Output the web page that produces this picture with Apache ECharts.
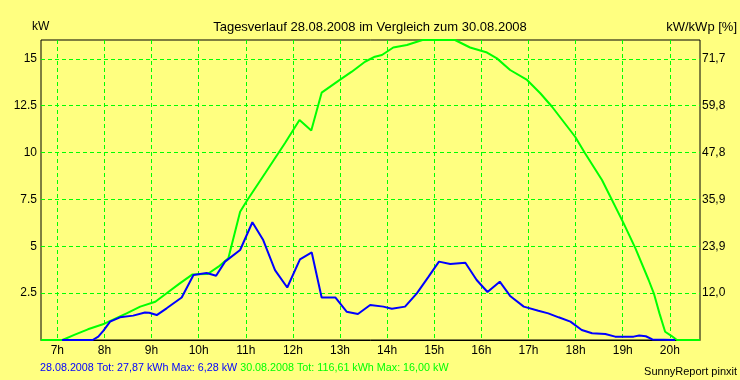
<!DOCTYPE html>
<html>
<head>
<meta charset="utf-8">
<script src="https://cdn.jsdelivr.net/npm/echarts@6/dist/echarts.min.js"></script>
<style>
html,body{margin:0;padding:0;background:#FFFF80;}
#chart{width:740px;height:380px;}
</style>
</head>
<body>
<div id="chart"></div>
<script>
// Hour ticks on the time axis
const hourTicks = [7, 8, 9, 10, 11, 12, 13, 14, 15, 16, 17, 18, 19, 20];
const leftLabels = ['2.5', '5', '7.5', '10', '12.5', '15'];
const rightLabels = ['12,0', '23,9', '35,9', '47,8', '59,8', '71,7'];

// 30.08.2008 (green) – time in hours, power in kW
const greenTimes = [6.654, 7.11, 7.36, 7.65, 8.0, 8.47, 8.76, 9.08, 9.32, 9.6, 9.87, 10.19, 10.42, 10.63, 10.88, 11.02, 11.41, 11.83, 12.14, 12.39, 12.61, 13.01, 13.25, 13.53, 13.74, 13.89, 14.13, 14.42, 14.75, 15.44, 15.76, 16.12, 16.33, 16.61, 16.97, 17.25, 17.5, 17.99, 18.2, 18.56, 19.02, 19.27, 19.55, 19.66, 19.78, 19.9, 20.04, 20.15, 20.64];
const greenValues = [0, 0, 0.27, 0.57, 0.87, 1.42, 1.78, 2.04, 2.49, 3.02, 3.5, 3.52, 3.91, 4.36, 6.84, 7.41, 8.89, 10.49, 11.73, 11.17, 13.19, 13.9, 14.31, 14.84, 15.11, 15.2, 15.6, 15.73, 16.0, 16.0, 15.6, 15.33, 15.02, 14.4, 13.87, 13.16, 12.44, 10.84, 9.96, 8.53, 6.22, 4.89, 3.2, 2.49, 1.42, 0.44, 0.21, 0, 0];

// 28.08.2008 (blue)
const blueTimes = [7.10, 7.75, 7.87, 7.98, 8.12, 8.33, 8.61, 8.86, 8.95, 9.11, 9.32, 9.64, 9.89, 10.17, 10.37, 10.56, 10.88, 11.14, 11.37, 11.62, 11.88, 12.15, 12.4, 12.61, 12.9, 13.14, 13.38, 13.64, 13.92, 14.1, 14.38, 14.63, 14.88, 15.1, 15.34, 15.66, 15.9, 16.13, 16.39, 16.61, 16.9, 17.21, 17.42, 17.64, 17.89, 18.13, 18.35, 18.63, 18.84, 19.23, 19.35, 19.49, 19.63, 20.11];
const blueValues = [0, 0, 0.18, 0.5, 0.98, 1.21, 1.3, 1.47, 1.45, 1.33, 1.69, 2.27, 3.47, 3.57, 3.43, 4.18, 4.8, 6.28, 5.33, 3.73, 2.8, 4.3, 4.67, 2.27, 2.27, 1.51, 1.39, 1.87, 1.78, 1.67, 1.78, 2.49, 3.38, 4.18, 4.05, 4.12, 3.2, 2.56, 3.11, 2.35, 1.78, 1.56, 1.42, 1.21, 0.98, 0.53, 0.36, 0.32, 0.18, 0.18, 0.24, 0.2, 0.03, 0];

const zip = (t, v) => t.map((x, i) => [x, v[i]]);
const FONT = 'Liberation Sans';
const dash = {color: '#00FF00', type: [4, 3], width: 1};

const chart = echarts.init(document.getElementById('chart'), null, {renderer: 'canvas'});
chart.setOption({
  backgroundColor: '#FFFF80',
  animation: false,
  textStyle: {fontFamily: FONT},
  title: [{
    text: 'Tagesverlauf 28.08.2008 im Vergleich zum 30.08.2008',
    left: 'center', top: 21, padding: 0,
    textStyle: {fontFamily: FONT, fontSize: 13, fontWeight: 'normal', color: '#000'}
  }, {
    text: '{b|28.08.2008 Tot: 27,87 kWh Max: 6,28 kW} {g|30.08.2008 Tot: 116,61 kWh Max: 16,00 kW}',
    left: 40, top: 363, padding: 0,
    textStyle: {
      fontFamily: FONT, fontSize: 10.75, fontWeight: 'normal',
      rich: {
        b: {color: '#0000FF', fontFamily: FONT, fontSize: 10.75},
        g: {color: '#00FF00', fontFamily: FONT, fontSize: 10.75}
      }
    }
  }, {
    text: 'SunnyReport pinxit',
    right: 3, top: 366, padding: 0,
    textStyle: {fontFamily: FONT, fontSize: 11, fontWeight: 'normal', color: '#000'}
  }],
  graphic: [
    {type: 'text', left: 32, top: 21, style: {text: 'kW', font: '12px ' + FONT, fill: '#000'}},
    {type: 'text', right: 3, top: 21, style: {text: 'kW/kWp [%]', font: '13px ' + FONT, fill: '#000'}}
  ],
  grid: {left: 41, right: 40, top: 40, bottom: 40, show: true, borderColor: '#000', borderWidth: 1, backgroundColor: 'transparent'},
  xAxis: {
    type: 'value', min: 6.654, max: 20.64,
    axisLine: {show: true, lineStyle: {color: '#000', width: 1}},
    axisTick: {show: false, customValues: hourTicks},
    axisLabel: {customValues: hourTicks, formatter: v => Math.round(v) + 'h', color: '#000', fontFamily: FONT, fontSize: 12, margin: 5},
    splitLine: {show: true, lineStyle: dash}
  },
  yAxis: [{
    type: 'value', min: 0, max: 16, interval: 2.5, position: 'left',
    axisLine: {show: false}, axisTick: {show: false},
    axisLabel: {
      color: '#000', fontFamily: FONT, fontSize: 12, margin: 4,
      showMaxLabel: false,
      formatter: v => { const i = Math.round(v / 2.5) - 1; return (v > 0 && v <= 15) ? leftLabels[i] : ''; }
    },
    splitLine: {show: true, showMinLine: false, showMaxLine: false, lineStyle: dash}
  }, {
    type: 'value', min: 0, max: 16, interval: 2.5, position: 'right',
    axisLine: {show: false}, axisTick: {show: false},
    axisLabel: {
      color: '#000', fontFamily: FONT, fontSize: 12, margin: 2,
      showMaxLabel: false,
      formatter: v => { const i = Math.round(v / 2.5) - 1; return (v > 0 && v <= 15) ? rightLabels[i] : ''; }
    },
    splitLine: {show: false}
  }],
  series: [{
    name: '30.08.2008', type: 'line', data: zip(greenTimes, greenValues),
    symbol: 'none', lineStyle: {color: '#00FF00', width: 2}, itemStyle: {color: '#00FF00'}
  }, {
    name: '28.08.2008', type: 'line', data: zip(blueTimes, blueValues),
    symbol: 'none', lineStyle: {color: '#0000FF', width: 2}, itemStyle: {color: '#0000FF'}
  }]
});
</script>
</body>
</html>
